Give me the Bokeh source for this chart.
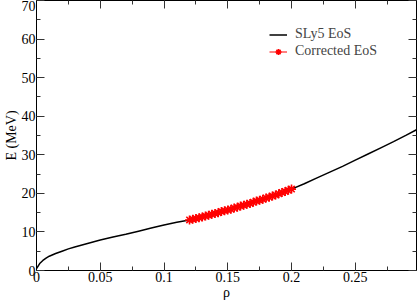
from bokeh.plotting import figure
from bokeh.models import (LinearAxis, SingleIntervalTicker, Range1d, Legend, LegendItem,
                          CustomJSTickFormatter)
from bokeh.embed import file_html
from bokeh.resources import INLINE

# SLy5 EoS curve
rho_sly5 = [0.0, 0.0025, 0.005, 0.0075, 0.01, 0.015, 0.02, 0.025, 0.03, 0.04,
            0.05, 0.06, 0.07, 0.08, 0.09, 0.10, 0.11, 0.12, 0.13, 0.14,
            0.15, 0.16, 0.17, 0.18, 0.19, 0.20, 0.21, 0.22, 0.23, 0.24,
            0.25, 0.26, 0.27, 0.28, 0.29, 0.298]
e_sly5 = [0.5, 1.8, 2.6, 3.2, 3.7, 4.4, 5.0, 5.6, 6.1, 7.0,
          7.9, 8.7, 9.4, 10.2, 11.0, 11.8, 12.5, 13.1, 13.9, 14.8,
          15.7, 16.7, 17.7, 18.8, 19.9, 21.1, 22.5, 24.0, 25.5, 27.0,
          28.6, 30.2, 31.8, 33.4, 35.1, 36.5]

# Corrected EoS points
rho_corr = [0.1200, 0.1225, 0.1250, 0.1275, 0.1300, 0.1325, 0.1350, 0.1375,
            0.1400, 0.1425, 0.1450, 0.1475, 0.1500, 0.1525, 0.1550, 0.1575,
            0.1600, 0.1625, 0.1650, 0.1675, 0.1700, 0.1725, 0.1750, 0.1775,
            0.1800, 0.1825, 0.1850, 0.1875, 0.1900, 0.1925, 0.1950, 0.1975,
            0.2000]
e_corr = [13.1, 13.3, 13.5, 13.7, 13.9, 14.1, 14.3, 14.6, 14.8, 15.0,
          15.3, 15.5, 15.7, 15.9, 16.2, 16.4, 16.7, 16.9, 17.2, 17.4,
          17.7, 18.0, 18.2, 18.5, 18.8, 19.0, 19.3, 19.6, 19.9, 20.2,
          20.5, 20.8, 21.1]

x_label = "ρ"
y_label = "E (MeV)"
series_names = ["SLy5 EoS", "Corrected EoS"]

FONT = "Liberation Serif"

p = figure(width=418, height=302, output_backend="svg", toolbar_location=None,
           x_range=Range1d(0, 0.298), y_range=Range1d(0, 70),
           min_border_left=24, min_border_right=2, min_border_top=0, min_border_bottom=0)
p.background_fill_color = "white"
p.border_fill_color = "white"
p.outline_line_color = "black"
p.outline_line_width = 1
p.xgrid.visible = False
p.ygrid.visible = False

def style(ax, labels=True):
    ax.axis_line_color = "black"
    ax.major_tick_line_color = "#333333"
    ax.minor_tick_line_color = "#333333"
    ax.major_tick_in = 8
    ax.major_tick_out = 0
    ax.minor_tick_in = 4
    ax.minor_tick_out = 0
    if labels:
        ax.major_label_text_font = FONT
        ax.major_label_text_font_size = "14px"
        ax.major_label_text_color = "black"
        ax.major_label_standoff = 1
        ax.axis_label_text_font = FONT
        ax.axis_label_text_font_size = "14px"
        ax.axis_label_text_font_style = "normal"
        ax.axis_label_text_color = "black"
        ax.axis_label_standoff = 0
    else:
        ax.formatter = CustomJSTickFormatter(code="return ''")
        ax.major_label_standoff = 0

p.xaxis.ticker = SingleIntervalTicker(interval=0.05, num_minor_ticks=2)
p.yaxis.ticker = SingleIntervalTicker(interval=10, num_minor_ticks=2)
p.xaxis.axis_label = x_label
p.yaxis.axis_label = y_label
p.xaxis.major_label_overrides = {0: "0"}
p.yaxis.major_label_overrides = {0: "0"}
style(p.xaxis[0])
style(p.yaxis[0])

top = LinearAxis(ticker=SingleIntervalTicker(interval=0.05, num_minor_ticks=2))
right = LinearAxis(ticker=SingleIntervalTicker(interval=10, num_minor_ticks=2))
style(top, labels=False)
style(right, labels=False)
p.add_layout(top, "above")
p.add_layout(right, "right")

r1 = p.line(rho_sly5, e_sly5, line_color="black", line_width=1.5)
r2 = p.line(rho_corr, e_corr, line_color="red", line_width=1)
r3 = p.scatter(rho_corr, e_corr, marker="asterisk", size=9, line_color="red", line_width=1.6)

legend = Legend(items=[LegendItem(label=series_names[0], renderers=[r1]),
                       LegendItem(label=series_names[1], renderers=[r2, r3])],
                location=(233, 211))
legend.label_text_font = FONT
legend.label_text_font_size = "14px"
legend.border_line_color = None
legend.background_fill_alpha = 0
legend.glyph_width = 18
legend.glyph_height = 15
legend.label_height = 15
legend.label_standoff = 8
legend.spacing = 1
legend.padding = 4
p.add_layout(legend, "center")

open("out.html", "w").write(file_html(p, INLINE))
